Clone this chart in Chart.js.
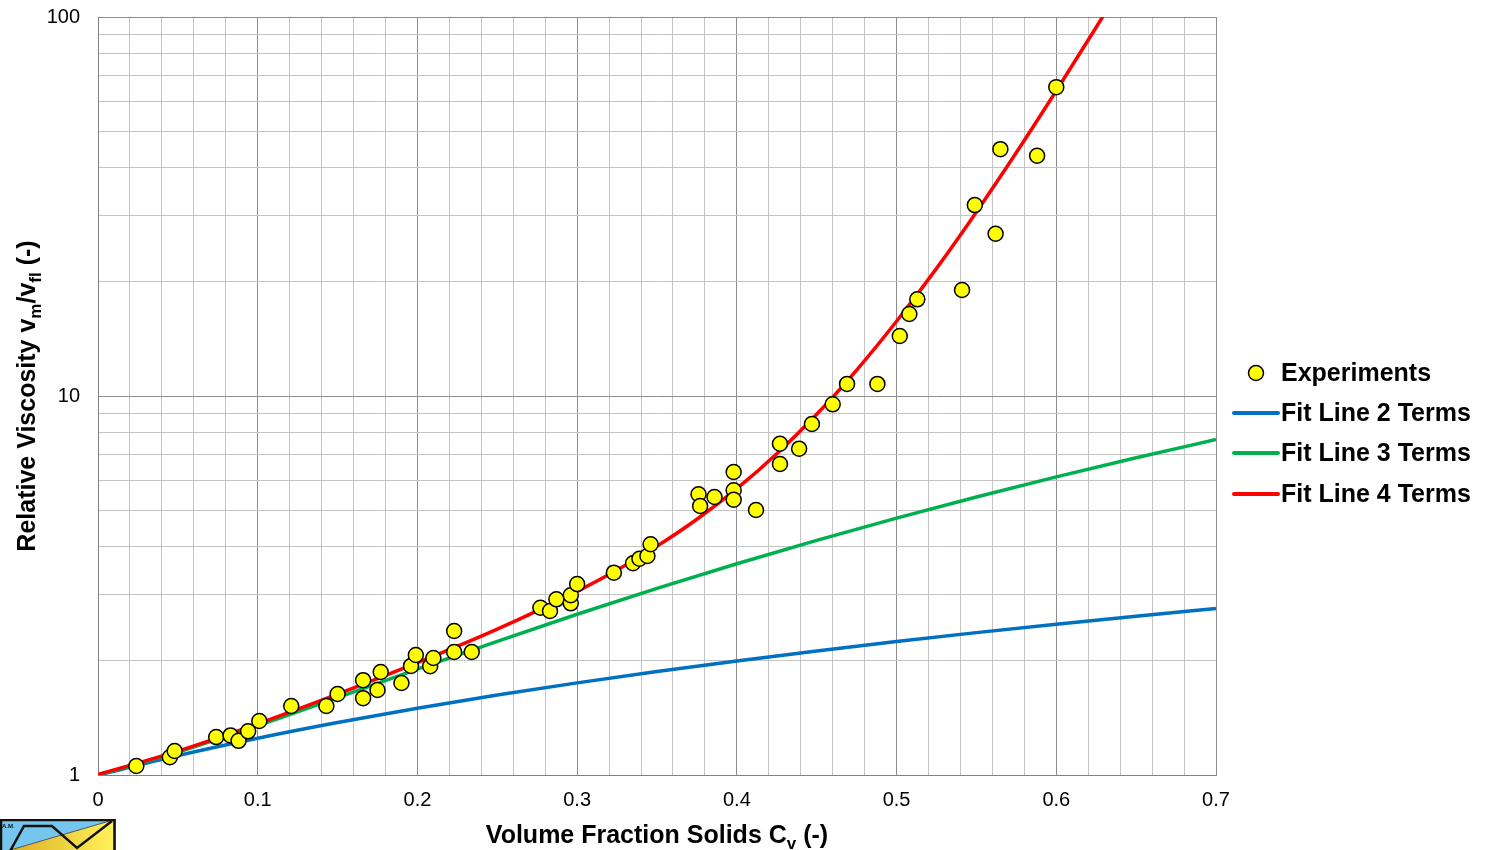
<!DOCTYPE html>
<html>
<head>
<meta charset="utf-8">
<script src="https://cdn.jsdelivr.net/npm/chart.js@4.4.1/dist/chart.umd.min.js"></script>
<style>
  html, body { margin: 0; padding: 0; background: #fff; }
</style>
</head>
<body>
<canvas id="myChart" width="1486" height="850"></canvas>
<script>
// experiments: volume fraction and relative viscosity
const expCv = [0.024, 0.045, 0.048, 0.074, 0.083, 0.088, 0.094, 0.101, 0.121, 0.143,
  0.150, 0.166, 0.166, 0.175, 0.177, 0.190, 0.196, 0.199, 0.208, 0.210,
  0.223, 0.223, 0.234, 0.277, 0.283, 0.287, 0.296, 0.296, 0.300, 0.323,
  0.335, 0.339, 0.344, 0.346, 0.376, 0.377, 0.386, 0.398, 0.398, 0.398,
  0.412, 0.427, 0.427, 0.439, 0.447, 0.460, 0.469, 0.488, 0.502, 0.508,
  0.513, 0.541, 0.549, 0.562, 0.565, 0.588, 0.600];
const expVisc = [1.056, 1.114, 1.157, 1.259, 1.272, 1.231, 1.304, 1.388, 1.521, 1.521,
  1.636, 1.779, 1.595, 1.676, 1.870, 1.749, 1.940, 2.073, 1.937, 2.036,
  2.399, 2.111, 2.111, 2.763, 2.708, 2.908, 2.838, 2.980, 3.19, 3.419,
  3.62, 3.72, 3.783, 4.062, 5.504, 5.127, 5.414, 6.302, 5.64, 5.325,
  5.004, 7.482, 6.616, 7.26, 8.435, 9.508, 10.76, 10.76, 14.4, 16.46,
  17.99, 19.04, 31.9, 26.8, 44.8, 43.05, 65.3];

// fit lines
const fitCv = [0, 0.05, 0.1, 0.15, 0.2, 0.25, 0.3, 0.35, 0.4, 0.45, 0.5, 0.55, 0.6, 0.65, 0.7];
const fit2 = [1, 1.125, 1.25, 1.375, 1.5, 1.625, 1.75, 1.875, 2.0, 2.125, 2.25, 2.375, 2.5, 2.625, 2.75];
const fit3 = [1, 1.15, 1.35, 1.601, 1.902, 2.253, 2.655, 3.106, 3.608, 4.16, 4.763, 5.415, 6.118, 6.871, 7.675];
const fit4Cv = [0, 0.05, 0.1, 0.15, 0.2, 0.25, 0.3, 0.325, 0.35, 0.375, 0.4, 0.425, 0.45,
  0.475, 0.5, 0.525, 0.55, 0.575, 0.6, 0.625, 0.65];
const fit4 = [1.003, 1.156, 1.364, 1.634, 1.978, 2.426, 3.052, 3.475, 4.017, 4.73, 5.696, 7.041, 8.95,
  11.71, 15.75, 21.71, 30.6, 43.91, 63.9, 93.98, 139.4];

const xLabels = ['0', '0.1', '0.2', '0.3', '0.4', '0.5', '0.6', '0.7'];
const yLabels = ['1', '10', '100'];

const FONT = "'Liberation Sans', Arial, sans-serif";
const toPts = (xs, ys) => xs.map((x, i) => ({ x: x, y: ys[i] }));
const isTenth = v => Math.abs(v * 10 - Math.round(v * 10)) < 1e-6;
const isDecade = v => [1, 10, 100].includes(Math.round(v * 1000) / 1000);

function drawRich(ctx, parts, cx, cy, angle) {
  ctx.save();
  ctx.translate(cx, cy);
  ctx.rotate(angle);
  ctx.fillStyle = '#000';
  ctx.textBaseline = 'alphabetic';
  ctx.textAlign = 'left';
  let total = 0;
  parts.forEach(p => {
    ctx.font = 'bold ' + (p.sub ? 17 : 25) + 'px ' + FONT;
    p.w = ctx.measureText(p.t).width;
    total += p.w;
  });
  let x = -total / 2;
  parts.forEach(p => {
    ctx.font = 'bold ' + (p.sub ? 17 : 25) + 'px ' + FONT;
    ctx.fillText(p.t, x, p.sub ? 6 : 0);
    x += p.w;
  });
  ctx.restore();
}

const extras = {
  id: 'extras',
  afterDraw(chart) {
    const ctx = chart.ctx;
    // axis titles
    drawRich(ctx, [{ t: 'Volume Fraction Solids C' }, { t: 'v', sub: true }, { t: ' (-)' }], 657, 843, 0);
    drawRich(ctx, [{ t: 'Relative Viscosity v' }, { t: 'm', sub: true }, { t: '/v' }, { t: 'fl', sub: true }, { t: ' (-)' }],
      35, 396, -Math.PI / 2);

    // legend
    const items = [
      { label: 'Experiments', type: 'point' },
      { label: 'Fit Line 2 Terms', color: '#0070C0' },
      { label: 'Fit Line 3 Terms', color: '#00B050' },
      { label: 'Fit Line 4 Terms', color: '#FF0000' }
    ];
    const rows = [373, 413, 453, 494];
    ctx.save();
    ctx.font = 'bold 25px ' + FONT;
    ctx.textBaseline = 'middle';
    ctx.textAlign = 'left';
    items.forEach((it, i) => {
      const y = rows[i];
      if (it.type === 'point') {
        ctx.beginPath();
        ctx.arc(1256, y, 7.5, 0, Math.PI * 2);
        ctx.fillStyle = '#FFFF00';
        ctx.fill();
        ctx.lineWidth = 1.5;
        ctx.strokeStyle = '#000';
        ctx.stroke();
      } else {
        ctx.beginPath();
        ctx.moveTo(1234, y);
        ctx.lineTo(1278, y);
        ctx.lineWidth = 4;
        ctx.lineCap = 'round';
        ctx.strokeStyle = it.color;
        ctx.stroke();
      }
      ctx.fillStyle = '#000';
      ctx.fillText(it.label, 1281, y + 1);
    });
    ctx.restore();

    // small logo in the corner
    ctx.save();
    ctx.beginPath();
    ctx.rect(0, 819, 116, 31);
    ctx.clip();
    ctx.fillStyle = '#74C6EE';
    ctx.fillRect(0, 819, 116, 31);
    const g = ctx.createLinearGradient(0, 0, 114, 0);
    g.addColorStop(0, '#D9A81E');
    g.addColorStop(1, '#FFF25A');
    ctx.beginPath();
    ctx.moveTo(0, 853);
    ctx.lineTo(113, 820);
    ctx.lineTo(113, 850);
    ctx.lineTo(0, 850);
    ctx.closePath();
    ctx.fillStyle = g;
    ctx.fill();
    ctx.beginPath();
    ctx.moveTo(0, 853);
    ctx.lineTo(113, 820);
    ctx.lineWidth = 1;
    ctx.strokeStyle = '#555';
    ctx.stroke();
    ctx.beginPath();
    ctx.moveTo(9, 853);
    ctx.lineTo(24, 826);
    ctx.lineTo(52, 826);
    ctx.lineTo(77, 848);
    ctx.lineTo(112, 821);
    ctx.lineWidth = 2.5;
    ctx.lineJoin = 'miter';
    ctx.strokeStyle = '#111';
    ctx.stroke();
    ctx.lineWidth = 2.5;
    ctx.strokeRect(1, 820, 113.5, 32);
    ctx.fillStyle = '#111';
    ctx.font = 'bold 6px ' + FONT;
    ctx.textBaseline = 'top';
    ctx.fillText('A.M.', 2, 823);
    ctx.restore();
  }
};

const ctx = document.getElementById('myChart');

new Chart(ctx, {
  type: 'scatter',
  data: {
    datasets: [{
      label: 'Experiments',
      data: toPts(expCv, expVisc),
      backgroundColor: '#FFFF00',
      borderColor: '#000000',
      borderWidth: 1.5,
      pointRadius: 7.5,
      pointHoverRadius: 7.5,
      order: 0
    }, {
      label: 'Fit Line 2 Terms',
      data: toPts(fitCv, fit2),
      showLine: true,
      borderColor: '#0070C0',
      borderWidth: 3.5,
      pointRadius: 0,
      cubicInterpolationMode: 'monotone',
      order: 3
    }, {
      label: 'Fit Line 3 Terms',
      data: toPts(fitCv, fit3),
      showLine: true,
      borderColor: '#00B050',
      borderWidth: 3.5,
      pointRadius: 0,
      cubicInterpolationMode: 'monotone',
      order: 2
    }, {
      label: 'Fit Line 4 Terms',
      data: toPts(fit4Cv, fit4),
      showLine: true,
      borderColor: '#FF0000',
      borderWidth: 3.5,
      pointRadius: 0,
      cubicInterpolationMode: 'monotone',
      order: 1
    }]
  },
  options: {
    responsive: false,
    animation: false,
    layout: { padding: { left: 0, top: 17, right: 270, bottom: 0 } },
    plugins: {
      legend: { display: false },
      tooltip: { enabled: false }
    },
    scales: {
      x: {
        type: 'linear',
        min: 0,
        max: 0.7,
        afterBuildTicks: s => {
          const t = [];
          for (let i = 0; i <= 35; i++) t.push({ value: Math.round(i * 2) / 100 });
          s.ticks = t;
        },
        afterFit: s => {
          s.height = 75;
          s.paddingLeft = 0;
          s.paddingRight = 0;
          s.paddingTop = 0;
          s.paddingBottom = 0;
        },
        ticks: {
          autoSkip: false,
          maxRotation: 0,
          padding: 13,
          color: '#000',
          font: { family: FONT, size: 20 },
          callback: v => isTenth(v) ? xLabels[Math.round(v * 10)] : ''
        },
        grid: {
          drawTicks: false,
          lineWidth: 1,
          color: c => (c.tick && isTenth(c.tick.value)) ? '#8e8e8e' : '#c4c4c4'
        },
        border: { color: '#808080', width: 1 }
      },
      y: {
        type: 'logarithmic',
        min: 1,
        max: 100,
        afterBuildTicks: s => {
          const t = [];
          [1, 10].forEach(d => { for (let m = 1; m <= 9; m++) t.push({ value: m * d }); });
          t.push({ value: 100 });
          s.ticks = t;
        },
        afterFit: s => {
          s.width = 98;
          s.paddingTop = 0;
          s.paddingBottom = 0;
          s.paddingLeft = 0;
          s.paddingRight = 0;
        },
        ticks: {
          autoSkip: false,
          padding: 18,
          color: '#000',
          font: { family: FONT, size: 20 },
          callback: v => isDecade(v) ? yLabels[Math.round(Math.log10(v))] : ''
        },
        grid: {
          drawTicks: false,
          lineWidth: 1,
          color: c => (c.tick && isDecade(c.tick.value)) ? '#8e8e8e' : '#c4c4c4'
        },
        border: { color: '#808080', width: 1 }
      }
    }
  },
  plugins: [extras]
});
</script>
</body>
</html>
